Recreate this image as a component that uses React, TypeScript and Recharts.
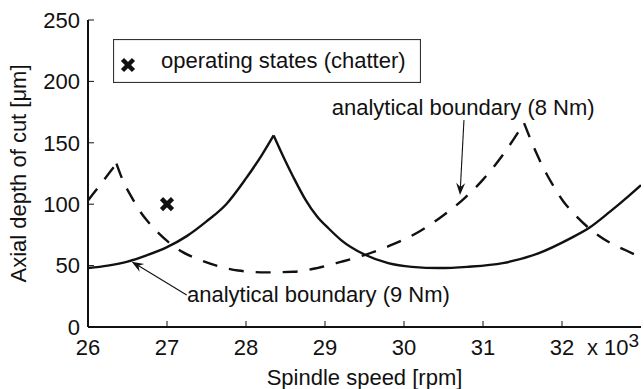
import {
  ComposedChart,
  Legend,
  Line,
  ReferenceDot,
  ReferenceLine,
  Scatter,
  XAxis,
  YAxis,
} from "recharts";

const FONT = "'Liberation Sans', Arial, Helvetica, sans-serif";
const INK = "#111";

// analytical boundary (9 Nm), split at the cusp so the peak stays sharp
const boundary9LobeA = [
  { x: 26000, y: 48 },
  { x: 26250, y: 50 },
  { x: 26500, y: 53.2 },
  { x: 26750, y: 58.5 },
  { x: 27000, y: 65 },
  { x: 27250, y: 74 },
  { x: 27500, y: 86 },
  { x: 27750, y: 100 },
  { x: 28000, y: 121 },
  { x: 28200, y: 140 },
  { x: 28350, y: 156 },
];

const boundary9LobeB = [
  { x: 28350, y: 156 },
  { x: 28500, y: 135 },
  { x: 28600, y: 122 },
  { x: 28750, y: 104 },
  { x: 28900, y: 90 },
  { x: 29050, y: 80 },
  { x: 29200, y: 71 },
  { x: 29500, y: 59 },
  { x: 29800, y: 52 },
  { x: 30100, y: 49 },
  { x: 30450, y: 48 },
  { x: 30800, y: 49 },
  { x: 31250, y: 52 },
  { x: 31700, y: 60 },
  { x: 32100, y: 72 },
  { x: 32350, y: 81 },
  { x: 32600, y: 93.5 },
  { x: 32850, y: 107 },
  { x: 33000, y: 115.5 },
];

// analytical boundary (8 Nm)
const boundary8LobeA = [
  { x: 26000, y: 103 },
  { x: 26180, y: 118 },
  { x: 26360, y: 133 },
];

const boundary8LobeB = [
  { x: 26360, y: 133 },
  { x: 26450, y: 118 },
  { x: 26550, y: 106 },
  { x: 26650, y: 95 },
  { x: 26750, y: 86.5 },
  { x: 26900, y: 76 },
  { x: 27050, y: 67.5 },
  { x: 27200, y: 61 },
  { x: 27400, y: 55 },
  { x: 27650, y: 49.5 },
  { x: 27900, y: 46 },
  { x: 28250, y: 44.5 },
  { x: 28600, y: 45 },
  { x: 28900, y: 48 },
  { x: 29200, y: 53 },
  { x: 29500, y: 58.6 },
  { x: 29850, y: 67 },
  { x: 30200, y: 78 },
  { x: 30500, y: 91 },
  { x: 30750, y: 104 },
  { x: 31000, y: 120 },
  { x: 31250, y: 140 },
  { x: 31520, y: 166 },
];

const boundary8LobeC = [
  { x: 31520, y: 166 },
  { x: 31680, y: 141 },
  { x: 31810, y: 124 },
  { x: 31890, y: 115 },
  { x: 32020, y: 102 },
  { x: 32140, y: 93 },
  { x: 32350, y: 80 },
  { x: 32610, y: 68.5 },
  { x: 32800, y: 62.7 },
  { x: 33000, y: 56.5 },
];

const chatterStates = [{ x: 27000, y: 100 }];

const xTicks = [26000, 27000, 28000, 29000, 30000, 31000, 32000];
const yTicks = [0, 50, 100, 150, 200, 250];

const legendLabel = "operating states (chatter)";
const note8 = { text: "analytical boundary (8 Nm)", x: 29085, y: 172.6 };
const note9 = { text: "analytical boundary (9 Nm)", x: 27253, y: 20.4 };
const arrow8 = [
  { x: 30759, y: 168.6 },
  { x: 30709, y: 107.5 },
];
const arrow9 = [
  { x: 27249, y: 26 },
  { x: 26553, y: 53.2 },
];

function ChatterMark({ cx, cy }: any) {
  const s = 5.5;
  return (
    <g stroke={INK} strokeWidth={4.5}>
      <line x1={cx - s} y1={cy - s} x2={cx + s} y2={cy + s} />
      <line x1={cx - s} y1={cy + s} x2={cx + s} y2={cy - s} />
    </g>
  );
}

function ArrowShape({ x1, y1, x2, y2 }: any) {
  const a = Math.atan2(y2 - y1, x2 - x1);
  const c = Math.cos(a);
  const s = Math.sin(a);
  const len = 12;
  const half = 4.5;
  const notch = 8;
  const bx = x2 - len * c;
  const by = y2 - len * s;
  const head = [
    `M${x2},${y2}`,
    `L${bx - s * half},${by + c * half}`,
    `L${x2 - notch * c},${y2 - notch * s}`,
    `L${bx + s * half},${by - c * half}`,
    "Z",
  ].join(" ");
  return (
    <g>
      <line x1={x1} y1={y1} x2={x2 - notch * c} y2={y2 - notch * s} stroke={INK} strokeWidth={1.1} />
      <path d={head} fill={INK} />
    </g>
  );
}

function noteShape(text: string) {
  return (p: any) => (
    <text x={p.cx} y={p.cy} fontSize={22} fontFamily={FONT} fill={INK}>
      {text}
    </text>
  );
}

function LegendBox() {
  return (
    <svg width={308} height={44} style={{ display: "block" }}>
      <rect x={0.5} y={0.5} width={307} height={43} fill="#fff" stroke="#333" strokeWidth={1.2} />
      <ChatterMark cx={15} cy={26} />
      <text x={48} y={29} fontSize={22} fontFamily={FONT} fill={INK}>
        {legendLabel}
      </text>
    </svg>
  );
}

function XTitle({ viewBox }: any) {
  const { x, y, width } = viewBox;
  return (
    <g fontFamily={FONT} fill={INK} fontSize={22}>
      <text x={x + width / 2} y={y + 58} textAnchor="middle">
        Spindle speed [rpm]
      </text>
      <text x={x + width - 54} y={y + 28}>
        x 10
        <tspan dx={0} dy={-8} fontSize={19}>
          3
        </tspan>
      </text>
    </g>
  );
}

function YTitle({ viewBox }: any) {
  const { y, height } = viewBox;
  const cx = 26;
  const cy = y + height / 2;
  return (
    <text
      x={cx}
      y={cy}
      textAnchor="middle"
      transform={`rotate(-90, ${cx}, ${cy})`}
      fontFamily={FONT}
      fontSize={22}
      fill={INK}
    >
      Axial depth of cut [μm]
    </text>
  );
}

const tickStyle = { fontSize: 22, fill: INK, fontFamily: FONT };

export default function App() {
  return (
    <div style={{ position: "absolute", left: 0, top: 0, width: 644, height: 389, background: "#fff" }}>
      <ComposedChart width={644} height={389} margin={{ top: 20, right: 3, bottom: 0, left: 0 }}>
        <XAxis
          dataKey="x"
          type="number"
          domain={[26000, 33000]}
          ticks={xTicks}
          allowDataOverflow
          height={62}
          tickSize={-6}
          tickMargin={18}
          tick={tickStyle}
          tickLine={{ stroke: INK, strokeWidth: 1 }}
          axisLine={{ stroke: INK, strokeWidth: 2 }}
          tickFormatter={(v) => `${v / 1000}`}
          label={(p: any) => <XTitle {...p} />}
        />
        <XAxis
          xAxisId="top"
          orientation="top"
          type="number"
          domain={[26000, 33000]}
          ticks={xTicks}
          allowDataOverflow
          height={0}
          tickSize={-6}
          tickMargin={0}
          tickFormatter={() => ""}
          tickLine={{ stroke: INK, strokeWidth: 1 }}
          axisLine={{ stroke: INK, strokeWidth: 1.3 }}
        />
        <YAxis
          type="number"
          domain={[0, 250]}
          ticks={yTicks}
          allowDataOverflow
          width={88}
          tickSize={-6}
          tickMargin={14}
          tick={tickStyle}
          tickLine={{ stroke: INK, strokeWidth: 1 }}
          axisLine={{ stroke: INK, strokeWidth: 2 }}
          label={(p: any) => <YTitle {...p} />}
        />
        <YAxis
          yAxisId="right"
          orientation="right"
          type="number"
          domain={[0, 250]}
          ticks={yTicks}
          allowDataOverflow
          width={0}
          tickSize={-6}
          tickMargin={0}
          tickFormatter={() => ""}
          tickLine={{ stroke: INK, strokeWidth: 1 }}
          axisLine={{ stroke: INK, strokeWidth: 1.5 }}
        />

        <Line data={boundary8LobeA} dataKey="y" type="monotone" stroke={INK} strokeWidth={2.4} strokeDasharray="15 12" dot={false} isAnimationActive={false} />
        <Line data={boundary8LobeB} dataKey="y" type="monotone" stroke={INK} strokeWidth={2.4} strokeDasharray="15 12" dot={false} isAnimationActive={false} />
        <Line data={boundary8LobeC} dataKey="y" type="monotone" stroke={INK} strokeWidth={2.4} strokeDasharray="15 12" dot={false} isAnimationActive={false} />
        <Line data={boundary9LobeA} dataKey="y" type="monotone" stroke={INK} strokeWidth={2.4} dot={false} isAnimationActive={false} />
        <Line data={boundary9LobeB} dataKey="y" type="monotone" stroke={INK} strokeWidth={2.4} dot={false} isAnimationActive={false} />
        <Scatter data={chatterStates} dataKey="y" shape={ChatterMark} isAnimationActive={false} />

        <ReferenceLine segment={arrow8} shape={ArrowShape} />
        <ReferenceLine segment={arrow9} shape={ArrowShape} />
        <ReferenceDot x={note8.x} y={note8.y} r={0} shape={noteShape(note8.text)} />
        <ReferenceDot x={note9.x} y={note9.y} r={0} shape={noteShape(note9.text)} />

        <Legend
          layout="horizontal"
          verticalAlign="middle"
          align="center"
          wrapperStyle={{ left: 113, top: 39, width: 308, height: 44 }}
          content={() => <LegendBox />}
        />
      </ComposedChart>
    </div>
  );
}
